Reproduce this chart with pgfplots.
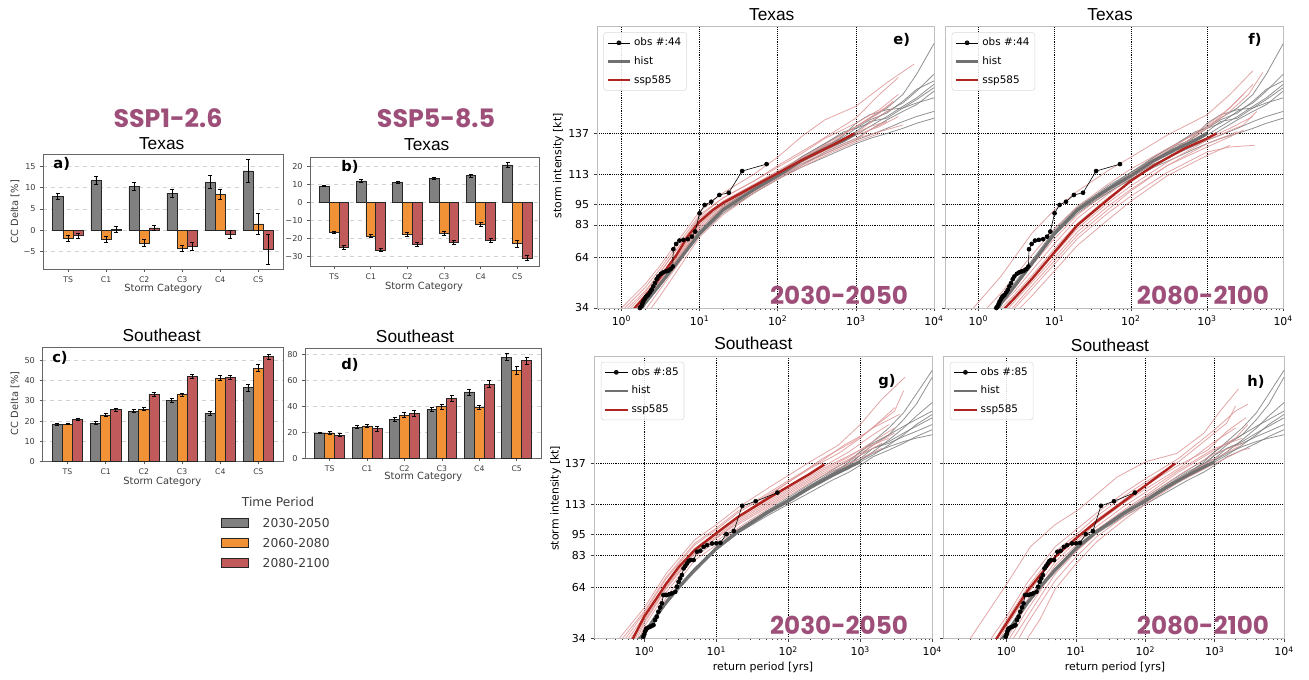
\documentclass[border=0pt]{standalone}
\usepackage{pgfplots}
\pgfplotsset{compat=1.18}
\usepackage{pgfplotstable}
\usepackage{fontspec}
\setmainfont{DejaVu Sans}
\newfontfamily\lib{Liberation Sans}
\newfontfamily\pop{Poppins}

\definecolor{bgrey}{RGB}{128,128,128}
\definecolor{borange}{RGB}{241,146,54}
\definecolor{bred}{RGB}{193,90,91}
\definecolor{plum}{RGB}{158,79,121}
\definecolor{histc}{RGB}{125,125,125}
\definecolor{histm}{RGB}{112,112,112}
\definecolor{sspthin}{RGB}{222,150,150}
\definecolor{sspm}{RGB}{176,36,32}
\definecolor{framec}{RGB}{190,190,190}
\definecolor{txtc}{RGB}{60,60,60}

\pgfplotsset{
  barax/.style={scale only axis, anchor=south west, xmin=-0.66, xmax=5.65,
    xtick={0,1,2,3,4,5}, xticklabels={TS,C1,C2,C3,C4,C5},
    tick pos=left, tick align=outside, major tick length=2pt,
    ymajorgrids, major grid style={dashed, black!18, line width=0.4pt},
    axis line style={black!60, line width=0.7pt},
    tick style={black!65, line width=0.5pt},
    xticklabel style={font=\fontsize{5.8}{6.5}\selectfont, text=txtc},
    yticklabel style={font=\fontsize{6.1}{7}\selectfont, text=txtc}},
  bb/.style={ybar, bar width=0.267, bar shift=0pt, fill=#1, draw=black!85,
    line width=0.6pt, forget plot,
    error bars/.cd, y dir=both, y explicit,
    error bar style={black, line width=0.7pt},
    error mark options={rotate=90, black, line width=0.7pt, mark size=1.5pt}},
  rpax/.style={scale only axis, anchor=south west, xmax=10000,
    ymin=34, ymax=200,
    xtick={1,10,100,1000,10000},
    xticklabels={10\textsuperscript{0},10\textsuperscript{1},10\textsuperscript{2},10\textsuperscript{3},10\textsuperscript{4}},
    minor xtick={0.2,0.3,0.4,0.5,0.6,0.7,0.8,0.9,2,3,4,5,6,7,8,9,20,30,40,50,60,70,80,90,200,300,400,500,600,700,800,900,2000,3000,4000,5000,6000,7000,8000,9000},
    ytick={34,64,83,95,113,137},
    grid=major, major grid style={black, densely dotted, line width=0.5pt},
    axis line style={framec, line width=0.7pt},
    tick style={black!75, line width=0.5pt}, tick align=outside, tick pos=left,
    major tick length=2.6pt, minor tick length=1.5pt,
    xticklabel style={font=\fontsize{8.2}{9}\selectfont},
    yticklabel style={font=\fontsize{8.2}{9}\selectfont},
    legend cell align=left,
    legend style={draw=black!15, rounded corners=2pt, fill=white, fill opacity=0.85,
      text opacity=1, font=\fontsize{7.8}{9}\selectfont, inner sep=2pt, row sep=2.6pt}},
  hthin/.style={histc, line width=0.6pt, opacity=0.85, forget plot},
  rthin/.style={sspthin, line width=0.6pt, opacity=0.85, forget plot},
  hmean/.style={histm, line width=2.2pt, forget plot},
  rmean/.style={sspm, line width=1.8pt, forget plot},
  obsp/.style={black, line width=0.45pt, mark=*, mark size=1.5pt, forget plot},
}

% Texas hist ensemble
\pgfplotstableread{
x     a   b   c   d   e   f   g   h   i
1     17  19  18  20  17  18  19  18  18
2     36  38  37  39  36  37  38  37  36
3     46  48  47  49  46  47  48  47  47
5     59  61  60  62  59  61  60  60  60
10    77  79  78  80  77  78  79  77  78
20    91  93  92  94  90  92  93  91  92
50    104 106 103 105 102 104 104 102 105
100   113 114 111 113 110 112 111 110 114
200   123 122 120 121 118 121 119 117 123
400   131 129 127 130 126 128 125 123 131
700   137 135 132 134 131 136 130 128 138
1000  141 140 136 138 134 143 133 131 140
1500  146 143 141 144 139 148 136 134 145
2500  152 150 147 146 145 151 140 137 149
4000  160 155 153 152 150 152 144 140 156
6000  172 162 158 157 154 155 147 143 163
10000 190 172 166 164 162 158 150 146 168
}\texhist

% Southeast hist ensemble
\pgfplotstableread{
x     a   b   c   d   e   f   g   h   i
0.5   21  23  22  22  21  23  22  22  21
1     36  38  37  37  36  38  37  37  37
2     54  56  55  55  54  56  55  55  54
3     63  65  64  64  63  65  64  64  64
5     74  75  74  75  73  75  74  74  74
10    87  87  86  87  86  88  87  86  87
20    98  98  96  97  96  98  97  96  97
50    109 108 107 108 106 109 108 107 108
100   117 115 114 116 113 116 115 115 115
200   125 123 122 124 120 124 123 123 122
400   133 131 129 132 127 131 130 131 129
700   139 137 135 137 132 136 136 138 134
1000  144 142 139 140 136 139 142 144 138
1500  150 148 144 146 141 143 146 149 142
2500  158 154 151 150 145 147 149 154 148
4000  167 163 158 155 149 150 153 159 154
6000  178 172 165 159 153 152 156 163 160
10000 192 188 173 164 157 154 160 168 166
}\sehist

\begin{document}
\begin{tikzpicture}
\begin{scope}[x=0.75pt,y=-0.75pt,yshift=509.25pt]
\path[use as bounding box] (0,0) rectangle (1309,679);
\coordinate (aSW) at (43,269);
\coordinate (bSW) at (310,266.7);
\coordinate (cSW) at (42.3,461.7);
\coordinate (dSW) at (305,458.3);
\coordinate (eSW) at (597.3,308);
\coordinate (fSW) at (945.5,308);
\coordinate (gSW) at (594,638.3);
\coordinate (hSW) at (943.8,638.3);
\end{scope}

% ---------------- bar panels ----------------
\begin{axis}[barax, at={(aSW)}, width=180pt, height=86.25pt,
  ymin=-9.06, ymax=17.87, ytick={-5,0,5,10,15}, yticklabels={−5,0,5,10,15}]
\addplot[bb=bgrey] coordinates {(-0.267,7.9)+-(0,0.75) (0.733,11.6)+-(0,0.95) (1.733,10.2)+-(0,0.9) (2.733,8.7)+-(0,0.9) (3.733,11.3)+-(0,1.5) (4.733,13.9)+-(0,2.6)};
\addplot[bb=borange] coordinates {(0,-1.9)+-(0,0.65) (1,-2.1)+-(0,0.7) (2,-3.0)+-(0,0.75) (3,-4.2)+-(0,0.75) (4,8.4)+-(0,1.1) (5,1.5)+-(0,2.5)};
\addplot[bb=bred] coordinates {(0.267,-1.25)+-(0,0.6) (1.267,0.25)+-(0,0.7) (2.267,0.55)+-(0,0.7) (3.267,-3.75)+-(0,0.9) (4.267,-1.0)+-(0,1.0) (5.267,-4.45)+-(0,3.5)};
\end{axis}

\begin{axis}[barax, at={(bSW)}, width=172pt, height=82pt, xmax=5.6,
  ymin=-35.5, ymax=24.8, ytick={-30,-20,-10,0,10,20}, yticklabels={−30,−20,−10,0,10,20}]
\addplot[bb=bgrey] coordinates {(-0.267,9.0)+-(0,0.5) (0.733,11.8)+-(0,0.6) (1.733,11.0)+-(0,0.6) (2.733,13.0)+-(0,0.6) (3.733,14.7)+-(0,0.8) (4.733,20.6)+-(0,1.5)};
\addplot[bb=borange] coordinates {(0,-16.4)+-(0,0.6) (1,-18.6)+-(0,0.8) (2,-17.6)+-(0,1.0) (3,-17.1)+-(0,1.1) (4,-12.3)+-(0,1.1) (5,-22.9)+-(0,1.8)};
\addplot[bb=bred] coordinates {(0.267,-25.0)+-(0,1.0) (1.267,-26.3)+-(0,1.0) (2.267,-23.2)+-(0,0.9) (3.267,-22.2)+-(0,1.1) (4.267,-20.8)+-(0,1.1) (5.267,-30.8)+-(0,1.5)};
\end{axis}

\begin{axis}[barax, at={(cSW)}, width=180.75pt, height=85.5pt,
  ymin=0, ymax=56.1, ytick={0,10,20,30,40,50}, yticklabels={0,10,20,30,40,50}]
\addplot[bb=bgrey] coordinates {(-0.267,18.4)+-(0,0.4) (0.733,19.0)+-(0,0.6) (1.733,24.9)+-(0,0.7) (2.733,30.0)+-(0,0.9) (3.733,23.6)+-(0,1.0) (4.733,36.4)+-(0,1.8)};
\addplot[bb=borange] coordinates {(0,18.5)+-(0,0.4) (1,23.0)+-(0,0.7) (2,25.9)+-(0,0.7) (3,33.0)+-(0,0.8) (4,41.0)+-(0,1.2) (5,46.1)+-(0,1.6)};
\addplot[bb=bred] coordinates {(0.267,20.7)+-(0,0.6) (1.267,25.6)+-(0,0.8) (2.267,33.0)+-(0,0.9) (3.267,42.1)+-(0,0.9) (4.267,41.5)+-(0,1.0) (5.267,51.6)+-(0,1.4)};
\end{axis}

\begin{axis}[barax, at={(dSW)}, width=177pt, height=82.5pt,
  ymin=0, ymax=84.6, ytick={0,20,40,60,80}, yticklabels={0,20,40,60,80}]
\addplot[bb=bgrey] coordinates {(-0.267,19.5)+-(0,0.7) (0.733,23.8)+-(0,1.2) (1.733,30.0)+-(0,1.4) (2.733,37.4)+-(0,1.6) (3.733,51.0)+-(0,2.3) (4.733,77.7)+-(0,2.6)};
\addplot[bb=borange] coordinates {(0,19.5)+-(0,0.9) (1,24.9)+-(0,1.2) (2,33.3)+-(0,1.8) (3,39.7)+-(0,1.8) (4,39.2)+-(0,1.8) (5,67.4)+-(0,3.3)};
\addplot[bb=bred] coordinates {(0.267,17.9)+-(0,1.2) (1.267,22.8)+-(0,2.0) (2.267,34.4)+-(0,2.4) (3.267,46.2)+-(0,2.2) (4.267,56.9)+-(0,2.6) (5.267,75.1)+-(0,2.8)};
\end{axis}

% ---------------- return period panels ----------------
% e) Texas 2030-2050
\begin{semilogxaxis}[rpax, at={(eSW)}, width=252.5pt, height=211pt, xmin=0.49,
  yticklabels={34,64,83,95,113,137},
  legend style={at={(0.018,0.98)}, anchor=north west}]
\addlegendimage{black, line width=0.5pt, mark=*, mark size=1.5pt}
\addlegendentry{obs \#:44}
\addlegendimage{histm, line width=1.8pt}
\addlegendentry{hist}
\addlegendimage{sspm, line width=1.6pt}
\addlegendentry{ssp585}
\pgfplotsinvokeforeach{a,b,c,d,e,f,g,h,i}{\addplot[hthin] table[x=x,y=#1]{\texhist};}
\addplot[rthin] coordinates {(1,34)(2,48)(3,58)(5,72)(10,91)(20,102)(50,113)(100,123)(200,135)(400,145)(1000,153)(2500,167)(5600,178)};
\addplot[rthin] coordinates {(1.2,34)(2,44)(3,54)(5,68)(10,88)(20,99)(50,109)(100,117)(200,125)(400,134)(1000,143)(2000,151)(3500,160)};
\addplot[rthin] coordinates {(1.4,34)(2,41)(3,51)(5,66)(10,86)(20,97)(50,107)(100,114)(200,122)(500,131)(1000,137)(1800,146)(3000,152)};
\addplot[rthin] coordinates {(1.6,34)(2,39)(3,49)(5,63)(10,83)(20,95)(50,105)(100,113)(200,120)(500,129)(1000,136)(2000,141)(3500,147)};
\addplot[rthin] coordinates {(1.8,34)(3,47)(5,61)(10,81)(20,93)(50,104)(100,112)(200,119)(500,128)(1000,134)(2000,138)(4000,142)};
\addplot[rthin] coordinates {(2.1,34)(3,44)(5,58)(10,78)(20,91)(50,103)(100,111)(200,118)(500,127)(1000,133)(1500,139)(2500,144)};
\addplot[rthin] coordinates {(1.3,34)(2,43)(3,54)(5,68)(10,87)(20,97)(50,107)(100,115)(300,127)(700,137)(1200,143)(2000,149)(3000,156)};
\addplot[rthin] coordinates {(1.5,34)(2,40)(3,50)(5,64)(10,84)(20,95)(50,106)(100,113)(200,121)(400,128)(800,135)(1500,141)(2500,144)};
\addplot[rthin] coordinates {(2.4,34)(3,40)(5,55)(10,76)(20,89)(50,102)(100,110)(200,117)(500,126)(1000,132)(2000,137)};
\addplot[rthin] coordinates {(1.7,34)(3,48)(5,62)(10,82)(20,94)(50,104)(100,112)(200,122)(500,132)(1000,141)(2000,150)(3000,155)};
\addplot[rthin] coordinates {(1.1,34)(2,46)(3,56)(5,70)(10,89)(20,99)(50,109)(100,118)(300,131)(1000,146)(2000,160)(3500,170)};
\addplot[hmean] coordinates {(1,18)(1.83,34)(2,37)(3,47)(5,60)(10,78)(20,92)(50,104)(100,112)(200,121)(400,128)(700,133)(1000,137)};
\addplot[rmean] coordinates {(1,24)(1.48,34)(2,41)(3,51)(5,65)(7,76)(10,85)(15,92)(20,96)(50,106)(100,113.5)(200,121)(500,130)(960,137)};
\addplot[obsp] coordinates {(1.72,34.0)(1.76,34.6)(1.81,35.4)(1.85,36.6)(1.90,37.9)(1.98,39.3)(2.05,40.5)(2.12,41.2)(2.20,41.8)(2.32,43.2)(2.43,44.8)(2.55,46.8)(2.68,48.7)(2.82,51.0)(2.96,52.6)(3.2,54.2)(3.43,55.0)(3.7,55.6)(3.98,56.1)(4.25,57.0)(4.53,58.5)(4.61,68.7)(5.0,71.8)(5.52,73.8)(6.21,74.2)(7.07,74.6)(7.96,76.1)(8.78,79.1)(9.98,89.9)(11.6,94.8)(14.1,96.7)(17.9,100.7)(23.6,102.0)(35.0,114.8)(72,118.9)};
\end{semilogxaxis}

% f) Texas 2080-2100
\begin{semilogxaxis}[rpax, at={(fSW)}, width=253.3pt, height=211pt, xmin=0.37,
  yticklabels={},
  legend style={at={(0.018,0.98)}, anchor=north west}]
\addlegendimage{black, line width=0.5pt, mark=*, mark size=1.5pt}
\addlegendentry{obs \#:44}
\addlegendimage{histm, line width=1.8pt}
\addlegendentry{hist}
\addlegendimage{sspm, line width=1.6pt}
\addlegendentry{ssp585}
\pgfplotsinvokeforeach{a,b,c,d,e,f,g,h,i}{\addplot[hthin] table[x=x,y=#1]{\texhist};}
\addplot[rthin] coordinates {(0.86,34)(2,53)(5,78)(10,92)(20,103)(50,115)(100,123)(300,136)(1000,148)(2000,160)(4000,174)};
\addplot[rthin] coordinates {(1.3,34)(2,43)(5,65)(10,81)(20,94)(50,107)(100,116)(300,128)(1000,140)(2000,150)(3500,160)(5400,173)};
\addplot[rthin] coordinates {(2,34)(3,42)(5,53)(10,69)(20,84)(50,99)(100,109)(300,123)(1000,134)(2000,140)(4000,147)};
\addplot[rthin] coordinates {(2.5,34)(3,38)(5,49)(10,64)(20,79)(50,94)(100,104)(300,118)(1000,131)(2500,138)};
\addplot[rthin] coordinates {(3,34)(5,45)(10,60)(20,75)(50,90)(100,100)(300,114)(1000,126)(2000,129)(4200,130)};
\addplot[rthin] coordinates {(3.5,34)(5,41)(10,56)(20,71)(50,86)(100,97)(300,112)(1000,124)(2000,130)};
\addplot[rthin] coordinates {(2.2,34)(3,40)(5,51)(10,66)(20,81)(50,96)(100,106)(300,120)(1000,133)(3000,142)(4500,150)};
\addplot[rthin] coordinates {(1.8,34)(3,44)(5,56)(10,72)(20,87)(50,101)(100,111)(300,125)(800,137)(1500,147)(3000,160)};
\addplot[rthin] coordinates {(2.8,34)(5,47)(10,62)(20,77)(50,92)(100,103)(300,118)(1000,129)(2000,135)(3000,139)};
\addplot[rthin] coordinates {(1.6,34)(3,46)(5,59)(10,75)(20,89)(50,103)(100,113)(200,122)(500,133)(1000,142)(2000,152)(4000,166)};
\addplot[hmean] coordinates {(1,18)(1.83,34)(2,37)(3,47)(5,60)(10,78)(20,92)(50,104)(100,112)(200,121)(400,128)(700,133)(1000,137)};
\addplot[rmean] coordinates {(1,18)(2.24,34)(3,40)(5,51)(10,67)(20,83)(50,98)(100,109)(200,118)(500,128)(1000,134)(1330,137)};
\addplot[obsp] coordinates {(1.72,34.0)(1.76,34.6)(1.81,35.4)(1.85,36.6)(1.90,37.9)(1.98,39.3)(2.05,40.5)(2.12,41.2)(2.20,41.8)(2.32,43.2)(2.43,44.8)(2.55,46.8)(2.68,48.7)(2.82,51.0)(2.96,52.6)(3.2,54.2)(3.43,55.0)(3.7,55.6)(3.98,56.1)(4.25,57.0)(4.53,58.5)(4.61,68.7)(5.0,71.8)(5.52,73.8)(6.21,74.2)(7.07,74.6)(7.96,76.1)(8.78,79.1)(9.98,89.9)(11.6,94.8)(14.1,96.7)(17.9,100.7)(23.6,102.0)(35.0,114.8)(72,118.9)};
\end{semilogxaxis}

% g) Southeast 2030-2050
\begin{semilogxaxis}[rpax, at={(gSW)}, width=253.7pt, height=211.2pt, xmin=0.2,
  yticklabels={34,64,83,95,113,137},
  legend style={at={(0.02,0.982)}, anchor=north west}]
\addlegendimage{black, line width=0.5pt, mark=*, mark size=1.5pt}
\addlegendentry{obs \#:85}
\addlegendimage{histm, line width=1.8pt}
\addlegendentry{hist}
\addlegendimage{sspm, line width=1.6pt}
\addlegendentry{ssp585}
\pgfplotsinvokeforeach{a,b,c,d,e,f,g,h,i}{\addplot[hthin] table[x=x,y=#1]{\sehist};}
\addplot[rthin] coordinates {(0.45,34)(1,52)(2,72)(5,92)(10,101)(20,111)(50,122)(100,130)(200,138)(500,148)(1000,160)(2000,175)(4200,188)};
\addplot[rthin] coordinates {(0.55,34)(1,49)(2,69)(5,89)(10,98)(20,108)(50,118)(100,126)(200,134)(500,143)(1000,152)(2000,163)(3000,170)};
\addplot[rthin] coordinates {(0.65,34)(1,46)(2,66)(5,86)(10,95)(20,105)(50,115)(100,123)(300,135)(700,144)(1500,154)(2500,160)};
\addplot[rthin] coordinates {(0.75,34)(1,44)(2,64)(5,84)(10,93)(20,103)(50,113)(100,121)(300,133)(700,141)(1500,150)(3000,158)};
\addplot[rthin] coordinates {(0.85,34)(1,41)(2,61)(5,82)(10,91)(20,101)(50,111)(100,119)(300,131)(1000,142)(2000,149)};
\addplot[rthin] coordinates {(0.6,34)(1,47)(2,67)(5,87)(10,96)(20,106)(50,117)(100,126)(300,140)(800,150)(1500,158)(3500,166)};
\addplot[rthin] coordinates {(0.95,34)(2,58)(5,80)(10,89)(20,99)(50,110)(100,118)(300,130)(1000,140)(2000,146)};
\addplot[rthin] coordinates {(0.5,34)(1,50)(2,70)(5,90)(10,99)(20,109)(50,119)(100,127)(300,139)(600,148)(1200,155)(3000,168)(4000,180)};
\addplot[rthin] coordinates {(0.7,34)(1,45)(2,65)(5,85)(10,94)(20,104)(50,114)(100,122)(300,134)(1000,145)(2500,152)};
\addplot[rthin] coordinates {(0.8,34)(1,43)(2,63)(5,84)(10,93)(20,102)(50,112)(100,120)(300,132)(1000,143)(2000,151)(3000,155)};
\addplot[hmean] coordinates {(0.5,22)(0.87,34)(1,37)(1.5,48)(2,55)(3,64)(5,74.5)(10,87)(20,97)(50,108)(100,115)(200,123)(400,130)(700,135)(1000,138)};
\addplot[rmean] coordinates {(0.5,25)(0.70,34)(1,47)(1.5,58)(2,66)(3,76)(5,86)(10,96)(20,105.5)(50,116)(100,123.5)(200,131)(316,136.5)};
\addplot[obsp] coordinates {(0.97,34.9)(1.0,36.4)(1.02,37.9)(1.05,39.0)(1.08,39.9)(1.14,40.4)(1.20,40.8)(1.27,41.3)(1.34,41.8)(1.41,44.8)(1.49,46.7)(1.57,49.7)(1.66,52.2)(1.75,54.6)(1.84,59.5)(1.95,59.6)(2.06,59.5)(2.23,60.0)(2.41,60.5)(2.69,61.4)(2.84,64.4)(2.99,67.3)(3.15,69.3)(3.33,71.3)(3.51,75.2)(3.70,76.6)(3.91,78.1)(4.12,79.5)(4.35,80.1)(4.84,80.1)(5.39,85.0)(6.0,85.6)(6.67,87.9)(7.43,88.9)(8.73,89.9)(10.0,90.0)(11.4,90.3)(13.8,95.4)(17.5,97.2)(22.9,112.1)(35.2,114.8)(70.6,119.9)};
\end{semilogxaxis}

% h) Southeast 2080-2100
\begin{semilogxaxis}[rpax, at={(hSW)}, width=255.2pt, height=211.2pt, xmin=0.124,
  yticklabels={},
  legend style={at={(0.018,0.982)}, anchor=north west}]
\addlegendimage{black, line width=0.5pt, mark=*, mark size=1.5pt}
\addlegendentry{obs \#:85}
\addlegendimage{histm, line width=1.8pt}
\addlegendentry{hist}
\addlegendimage{sspm, line width=1.6pt}
\addlegendentry{ssp585}
\pgfplotsinvokeforeach{a,b,c,d,e,f,g,h,i}{\addplot[hthin] table[x=x,y=#1]{\sehist};}
\addplot[rthin] coordinates {(0.3,34)(1,66)(2.2,88)(5,101)(11,110)(20,119)(39,129)(100,138)(284,143)(700,155)(1200,168)(2200,181)};
\addplot[rthin] coordinates {(0.6,34)(1,47)(2,67)(5,88)(10,98)(20,108)(50,120)(100,128)(300,140)(1000,157)(2000,168)(3000,172)};
\addplot[rthin] coordinates {(0.8,34)(1,41)(2,60)(5,82)(10,93)(20,104)(50,116)(100,124)(300,136)(800,145)(1500,156)(2800,164)};
\addplot[rthin] coordinates {(1.0,34)(2,54)(5,77)(10,89)(20,100)(50,112)(100,120)(300,133)(1000,146)(2500,152)};
\addplot[rthin] coordinates {(1.25,34)(2,47)(5,72)(10,85)(20,96)(50,108)(100,117)(300,130)(1000,143)(2600,149)};
\addplot[rthin] coordinates {(1.5,34)(2,43)(5,68)(10,82)(20,94)(50,106)(100,115)(300,128)(1000,140)(2200,147)};
\addplot[rthin] coordinates {(2.0,34)(3,45)(5,63)(10,78)(20,91)(50,104)(100,113)(300,126)(1000,137)(2500,145)(3200,146)};
\addplot[rthin] coordinates {(0.7,34)(1,45)(2,64)(5,85)(10,95)(20,106)(50,118)(100,126)(300,138)(700,150)(1500,161)(2000,171)};
\addplot[rthin] coordinates {(1.1,34)(2,51)(5,75)(10,87)(20,98)(50,110)(100,118)(300,132)(1000,145)(2000,152)(3000,160)};
\addplot[rthin] coordinates {(0.9,34)(2,57)(5,79)(10,91)(20,102)(50,114)(100,122)(300,134)(1000,150)(2000,158)};
\addplot[hmean] coordinates {(0.5,22)(0.87,34)(1,37)(1.5,48)(2,55)(3,64)(5,74.5)(10,87)(20,97)(50,108)(100,115)(200,123)(400,130)(700,135)(1000,138)};
\addplot[rmean] coordinates {(0.5,26)(0.72,34)(1,43)(2,62)(3,71)(5,82)(10,93)(20,103)(50,115)(100,124)(268,137)};
\addplot[obsp] coordinates {(0.97,34.9)(1.0,36.4)(1.02,37.9)(1.05,39.0)(1.08,39.9)(1.14,40.4)(1.20,40.8)(1.27,41.3)(1.34,41.8)(1.41,44.8)(1.49,46.7)(1.57,49.7)(1.66,52.2)(1.75,54.6)(1.84,59.5)(1.95,59.6)(2.06,59.5)(2.23,60.0)(2.41,60.5)(2.69,61.4)(2.84,64.4)(2.99,67.3)(3.15,69.3)(3.33,71.3)(3.51,75.2)(3.70,76.6)(3.91,78.1)(4.12,79.5)(4.35,80.1)(4.84,80.1)(5.39,85.0)(6.0,85.6)(6.67,87.9)(7.43,88.9)(8.73,89.9)(10.0,90.0)(11.4,90.3)(13.8,95.4)(17.5,97.2)(22.9,112.1)(35.2,114.8)(70.6,119.9)};
\end{semilogxaxis}

% ---------------- text ----------------
\begin{scope}[x=0.75pt,y=-0.75pt,yshift=509.25pt]
% scenario headers
\node[font=\pop\bfseries\fontsize{19}{21}\selectfont, text=plum] at (168,118) {SSP1-2.6};
\node[font=\pop\bfseries\fontsize{19}{21}\selectfont, text=plum] at (436,118) {SSP5-8.5};
% bar titles
\node[font=\lib\fontsize{13}{15}\selectfont] at (161.7,143.3) {Texas};
\node[font=\lib\fontsize{13}{15}\selectfont] at (426.7,145) {Texas};
\node[font=\lib\fontsize{13}{15}\selectfont] at (161.7,335) {Southeast};
\node[font=\lib\fontsize{13}{15}\selectfont] at (415,336.7) {Southeast};
% bar panel letters
\node[font=\bfseries\fontsize{11}{13}\selectfont] at (61.7,164) {a)};
\node[font=\bfseries\fontsize{11}{13}\selectfont] at (350,167) {b)};
\node[font=\bfseries\fontsize{11}{13}\selectfont] at (60,357.5) {c)};
\node[font=\bfseries\fontsize{11}{13}\selectfont] at (350,365) {d)};
% bar axis labels
\node[rotate=90, font=\fontsize{7.4}{8}\selectfont, text=txtc] at (15,211.7) {CC Delta [\%]};
\node[rotate=90, font=\fontsize{7.4}{8}\selectfont, text=txtc] at (15,403.3) {CC Delta [\%]};
\node[font=\fontsize{7.4}{8}\selectfont, text=txtc] at (163.3,289.3) {Storm Category};
\node[font=\fontsize{7.4}{8}\selectfont, text=txtc] at (424,286.7) {Storm Category};
\node[font=\fontsize{7.4}{8}\selectfont, text=txtc] at (162.3,482.3) {Storm Category};
\node[font=\fontsize{7.4}{8}\selectfont, text=txtc] at (423.3,477.3) {Storm Category};
% time period legend
\node[font=\fontsize{9.2}{11}\selectfont, text=txtc] at (278,501.7) {Time Period};
\draw[fill=bgrey, draw=black!85, line width=0.6pt] (221.7,518.2) rectangle (248.3,527.2);
\draw[fill=borange, draw=black!85, line width=0.6pt] (221.7,538.8) rectangle (248.3,547.8);
\draw[fill=bred, draw=black!85, line width=0.6pt] (221.7,558.8) rectangle (248.3,567.8);
\node[anchor=west, font=\fontsize{9.2}{11}\selectfont, text=txtc] at (258,522.7) {2030-2050};
\node[anchor=west, font=\fontsize{9.2}{11}\selectfont, text=txtc] at (258,543.3) {2060-2080};
\node[anchor=west, font=\fontsize{9.2}{11}\selectfont, text=txtc] at (258,563.3) {2080-2100};
% return-period titles
\node[font=\lib\fontsize{13}{15}\selectfont] at (771.7,15) {Texas};
\node[font=\lib\fontsize{13}{15}\selectfont] at (1110,15) {Texas};
\node[font=\lib\fontsize{13}{15}\selectfont] at (753.3,343.3) {Southeast};
\node[font=\lib\fontsize{13}{15}\selectfont] at (1110,345) {Southeast};
% return-period labels
\node[rotate=90, font=\fontsize{8.2}{9}\selectfont] at (558.3,165.7) {storm intensity [kt]};
\node[rotate=90, font=\fontsize{8.2}{9}\selectfont] at (555.7,498.3) {storm intensity [kt]};
\node[font=\fontsize{8.2}{9}\selectfont] at (763,667.3) {return period [yrs]};
\node[font=\fontsize{8.2}{9}\selectfont] at (1115,667.3) {return period [yrs]};
% panel letters
\node[font=\bfseries\fontsize{11}{13}\selectfont] at (901.7,40) {e)};
\node[font=\bfseries\fontsize{11}{13}\selectfont] at (1255,40) {f)};
\node[font=\bfseries\fontsize{11}{13}\selectfont] at (887,382) {g)};
\node[font=\bfseries\fontsize{11}{13}\selectfont] at (1256,382) {h)};
% period labels
\node[font=\pop\bfseries\fontsize{18.5}{20}\selectfont, text=plum] at (839,295) {2030-2050};
\node[font=\pop\bfseries\fontsize{18.5}{20}\selectfont, text=plum] at (1203,295) {2080-2100};
\node[font=\pop\bfseries\fontsize{18.5}{20}\selectfont, text=plum] at (839,625) {2030-2050};
\node[font=\pop\bfseries\fontsize{18.5}{20}\selectfont, text=plum] at (1203,625) {2080-2100};
\end{scope}
\end{tikzpicture}
\end{document}
